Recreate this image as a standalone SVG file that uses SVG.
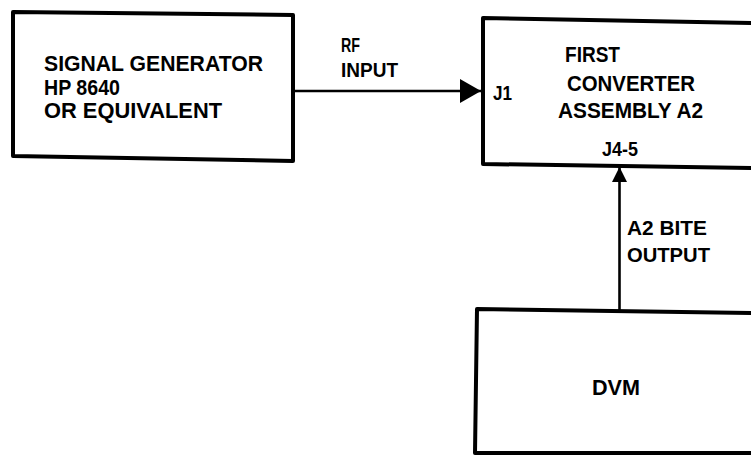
<svg xmlns="http://www.w3.org/2000/svg" width="751" height="456" viewBox="0 0 751 456">
<style>
.box{fill:none;stroke:#000;stroke-width:4;stroke-linejoin:round}
.wire{fill:none;stroke:#000;stroke-width:2.6}
.t{font-family:"Liberation Sans",Arial,sans-serif;font-weight:bold;fill:#000}
.n{font-size:22px}
.l{font-size:21px}
</style>
<defs>
<marker id="ah" markerUnits="userSpaceOnUse" markerWidth="22" markerHeight="24" refX="21" refY="12" orient="auto">
<path d="M0,0 L21,12 L0,24 Z" fill="#000"/>
</marker>
<marker id="ahv" markerUnits="userSpaceOnUse" markerWidth="16" markerHeight="16" refX="15" refY="7.5" orient="auto">
<path d="M0,0 L15,7.5 L0,15 Z" fill="#000"/>
</marker>
</defs>
<rect width="751" height="456" fill="#fff"/>
<g id="connectors">
<line class="wire" x1="293" y1="91" x2="481" y2="91" marker-end="url(#ah)"/>
<line class="wire" x1="619.5" y1="310" x2="619.5" y2="167" marker-end="url(#ahv)"/>
</g>
<g id="signal-generator">
<path class="box" d="M13,12 L293,15 L293,161 L13,156 Z"/>
<text class="t n" x="44" y="71" textLength="219" lengthAdjust="spacingAndGlyphs">SIGNAL GENERATOR</text>
<text class="t n" x="44" y="94.5" textLength="76" lengthAdjust="spacingAndGlyphs">HP 8640</text>
<text class="t n" x="44" y="118" textLength="178" lengthAdjust="spacingAndGlyphs">OR EQUIVALENT</text>
</g>
<g id="rf-input-label">
<text class="t l" x="341" y="52" textLength="19" lengthAdjust="spacingAndGlyphs">RF</text>
<text class="t l" x="341" y="77" textLength="57" lengthAdjust="spacingAndGlyphs">INPUT</text>
</g>
<g id="first-converter">
<path class="box" d="M755,23 L483,18 L483,164 L755,168"/>
<text class="t l" x="493" y="100" textLength="19" lengthAdjust="spacingAndGlyphs">J1</text>
<text class="t n" x="565" y="62" textLength="55" lengthAdjust="spacingAndGlyphs">FIRST</text>
<text class="t n" x="567" y="91" textLength="128" lengthAdjust="spacingAndGlyphs">CONVERTER</text>
<text class="t n" x="558" y="118" textLength="145" lengthAdjust="spacingAndGlyphs">ASSEMBLY A2</text>
<text class="t l" x="602" y="156" textLength="36" lengthAdjust="spacingAndGlyphs">J4-5</text>
</g>
<g id="bite-output-label">
<text class="t l" x="627" y="235" textLength="80" lengthAdjust="spacingAndGlyphs">A2 BITE</text>
<text class="t l" x="627" y="262" textLength="83" lengthAdjust="spacingAndGlyphs">OUTPUT</text>
</g>
<g id="dvm">
<path class="box" d="M755,313 L477,309 L475,453 L755,453"/>
<text class="t n" x="592" y="395" textLength="48" lengthAdjust="spacingAndGlyphs">DVM</text>
</g>
</svg>
